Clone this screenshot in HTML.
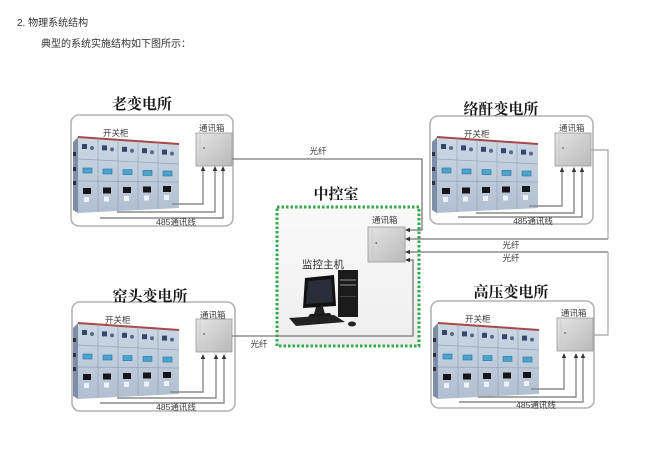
<!DOCTYPE html>
<html><head><meta charset="utf-8"><style>
html,body{margin:0;padding:0;background:#fff;}
svg{display:block;}
.t{font-family:"Liberation Sans","Noto Sans CJK SC",sans-serif;fill:#333;}
.h{font-family:"Liberation Serif","Noto Serif CJK SC",serif;font-weight:bold;fill:#1a1a1a;font-size:15px;}
.s{font-family:"Liberation Sans","Noto Sans CJK SC",sans-serif;fill:#3a3a3a;font-size:8.5px;}
</style></head><body>
<svg width="652" height="459" viewBox="0 0 652 459" xmlns="http://www.w3.org/2000/svg">
<defs>
<linearGradient id="cabg" x1="0" y1="0" x2="0" y2="1">
<stop offset="0" stop-color="#ccd8e4"/><stop offset="1" stop-color="#b0bfd1"/>
</linearGradient>
<linearGradient id="boxg" x1="0" y1="0" x2="1" y2="1">
<stop offset="0" stop-color="#e4e4e4"/><stop offset="1" stop-color="#b9b9b9"/>
</linearGradient>
<linearGradient id="ctrg" x1="0" y1="0" x2="0" y2="1">
<stop offset="0" stop-color="#f9f9f9"/><stop offset="1" stop-color="#eeeeee"/>
</linearGradient>
<g id="cab">
<polygon points="0,5 5,0 5,76 0,73" fill="#7d8ea6"/>
<rect x="0" y="15" width="3" height="4" fill="#2c3240"/>
<rect x="0" y="30" width="3" height="4" fill="#2c3240"/>
<rect x="0" y="44" width="3" height="4" fill="#2c3240"/>
<polygon points="5,0 106,7 106,71 5,76" fill="url(#cabg)"/>
<line x1="5" y1="0" x2="106" y2="7" stroke="#a84848" stroke-width="2"/>
<g stroke="#95a4b8" stroke-width="0.7">
<line x1="25" y1="1.4" x2="25" y2="75"/><line x1="45" y1="2.8" x2="45" y2="74"/>
<line x1="65" y1="4.2" x2="65" y2="73"/><line x1="85" y1="5.6" x2="85" y2="72"/>
<line x1="5" y1="22" x2="106" y2="27"/><line x1="5" y1="44" x2="106" y2="45"/>
</g>
<g fill="#34466a">
<rect x="9" y="7" width="5" height="5"/><rect x="29" y="8.4" width="5" height="5"/>
<rect x="49" y="9.8" width="5" height="5"/><rect x="69" y="11.2" width="5" height="5"/>
<rect x="89" y="12.6" width="5" height="5"/>
</g>
<g fill="#5a6a86">
<circle cx="19" cy="11" r="2"/><circle cx="39" cy="12.4" r="2"/><circle cx="59" cy="13.8" r="2"/>
<circle cx="79" cy="15.2" r="2"/><circle cx="99" cy="16.6" r="2"/>
</g>
<g fill="#49a5cf" stroke="#2b6f99" stroke-width="0.6">
<rect x="10" y="31" width="9" height="5"/><rect x="30" y="32" width="9" height="5"/>
<rect x="50" y="32.6" width="9" height="5"/><rect x="70" y="33.4" width="9" height="5"/>
<rect x="90" y="34" width="9" height="5"/>
</g>
<g fill="#15161c">
<rect x="10" y="51" width="8" height="6"/><rect x="30" y="50.5" width="8" height="6"/>
<rect x="50" y="50" width="8" height="6"/><rect x="70" y="49.5" width="8" height="6"/>
<rect x="90" y="49" width="8" height="6"/>
</g>
<g fill="#eef2f6">
<rect x="11" y="60" width="5" height="5"/><rect x="31" y="59.5" width="5" height="5"/>
<rect x="51" y="59" width="5" height="5"/><rect x="71" y="58.5" width="5" height="5"/>
<rect x="91" y="58" width="5" height="5"/>
</g>
</g>
<g id="cbox">
<rect x="0" y="0" width="36" height="33" fill="url(#boxg)" stroke="#9a9a9a" stroke-width="0.8"/>
<line x1="4" y1="2" x2="4" y2="31" stroke="#c8c8c8" stroke-width="0.8"/>
<circle cx="8" cy="15" r="0.9" fill="#666"/>
</g>
</defs>

<rect width="652" height="459" fill="#fff"/>

<text class="t" x="17" y="26" font-size="10">2. 物理系统结构</text>
<text class="t" x="41" y="47" font-size="10">典型的系统实施结构如下图所示：</text>

<!-- Station boxes -->
<g fill="#fff" stroke="#b3b3b3" stroke-width="1.6">
<rect x="71" y="115" width="162" height="111" rx="8"/>
<rect x="430" y="116" width="163" height="108" rx="8"/>
<rect x="72" y="302" width="163" height="109" rx="8"/>
<rect x="431" y="301" width="163" height="107" rx="8"/>
</g>

<!-- central -->
<rect x="277" y="207" width="142" height="139" fill="url(#ctrg)" stroke="#35a84e" stroke-width="3" stroke-dasharray="2.5 2"/>

<!-- Titles -->
<text class="h" x="142" y="109" text-anchor="middle">老变电所</text>
<text class="h" x="501" y="114" text-anchor="middle">络酐变电所</text>
<text class="h" x="150" y="301" text-anchor="middle">窑头变电所</text>
<text class="h" x="511" y="297" text-anchor="middle">高压变电所</text>
<text class="h" x="336" y="199" text-anchor="middle">中控室</text>

<!-- cabinets -->
<use href="#cab" x="73" y="137"/>
<use href="#cab" x="432" y="137"/>
<use href="#cab" x="73" y="323"/>
<use href="#cab" x="433" y="323"/>

<text class="s" x="103" y="136">开关柜</text>
<text class="s" x="464" y="137">开关柜</text>
<text class="s" x="105" y="323">开关柜</text>
<text class="s" x="465" y="322">开关柜</text>

<!-- comm boxes -->
<use href="#cbox" x="196" y="133"/>
<use href="#cbox" x="555" y="133"/>
<use href="#cbox" x="196" y="319"/>
<use href="#cbox" x="557" y="318"/>
<g transform="translate(368,227) scale(1.03,1.06)"><use href="#cbox"/></g>

<text class="s" x="199" y="131">通讯箱</text>
<text class="s" x="559" y="131">通讯箱</text>
<text class="s" x="200" y="318">通讯箱</text>
<text class="s" x="561" y="316">通讯箱</text>
<text class="s" x="372" y="223">通讯箱</text>

<!-- 485 lines -->
<g fill="none" stroke="#8a8a8a" stroke-width="1.4">
<path d="M203 170V204H172M215 170V212H117M223 170V218H100"/>
<path d="M562 171V206H529M574 171V213H476M582 171V217H458"/>
<path d="M203 358V392H170M216 358V398H117M224 358V403H100"/>
<path d="M564 357V389H531M576 357V397H478M583 357V402H459"/>
</g>
<g fill="#333">
<path d="M203 166l-2.2 5h4.4zM215 166l-2.2 5h4.4zM223 166l-2.2 5h4.4z"/>
<path d="M562 167l-2.2 5h4.4zM574 167l-2.2 5h4.4zM582 167l-2.2 5h4.4z"/>
<path d="M203 354l-2.2 5h4.4zM216 354l-2.2 5h4.4zM224 354l-2.2 5h4.4z"/>
<path d="M564 353l-2.2 5h4.4zM576 353l-2.2 5h4.4zM583 353l-2.2 5h4.4z"/>
</g>
<text class="s" x="176" y="225" text-anchor="middle">485通讯线</text>
<text class="s" x="533" y="224" text-anchor="middle">485通讯线</text>
<text class="s" x="176" y="410" text-anchor="middle">485通讯线</text>
<text class="s" x="536" y="408" text-anchor="middle">485通讯线</text>

<!-- fiber lines -->
<g fill="none" stroke="#777" stroke-width="1.3">
<path d="M232 159H422V230H410"/>
<path d="M608 239H410"/>
<path d="M608 252H410"/>
<path d="M232 336H413V260H410"/>
</g>
<g fill="none" stroke="#a5a5a5" stroke-width="1.2">
<path d="M591 150H608V239"/>
<path d="M594 335H608V252"/>
</g>
<g fill="#333">
<path d="M405 230l5-2.2v4.4zM405 239l5-2.2v4.4zM405 252l5-2.2v4.4zM405 260l5-2.2v4.4z"/>
</g>
<text class="s" x="318" y="154" text-anchor="middle">光纤</text>
<text class="s" x="511" y="248" text-anchor="middle">光纤</text>
<text class="s" x="511" y="261" text-anchor="middle">光纤</text>
<text class="s" x="259" y="347" text-anchor="middle">光纤</text>

<!-- computer -->
<text class="t" x="302" y="268" font-size="10.5" fill="#222">监控主机</text>
<rect x="338" y="270" width="20" height="47" fill="#1b1b1b"/>
<rect x="340" y="279" width="16" height="2" fill="#555"/>
<rect x="340" y="284" width="16" height="2" fill="#555"/>
<rect x="340" y="296" width="16" height="1" fill="#444"/>
<polygon points="305,278 334,275 336,306 303,308" fill="#111"/>
<polygon points="308,281 331,279 333,302 306,304" fill="#2a2c36"/>
<polygon points="316,307 323,307 325,314 314,314" fill="#222"/>
<polygon points="310,314 330,313 332,316 308,317" fill="#1a1a1a"/>
<polygon points="289,318 334,315 345,322 296,326" fill="#222"/>
<ellipse cx="352" cy="324" rx="4" ry="2.5" fill="#222"/>
</svg>
</body></html>
